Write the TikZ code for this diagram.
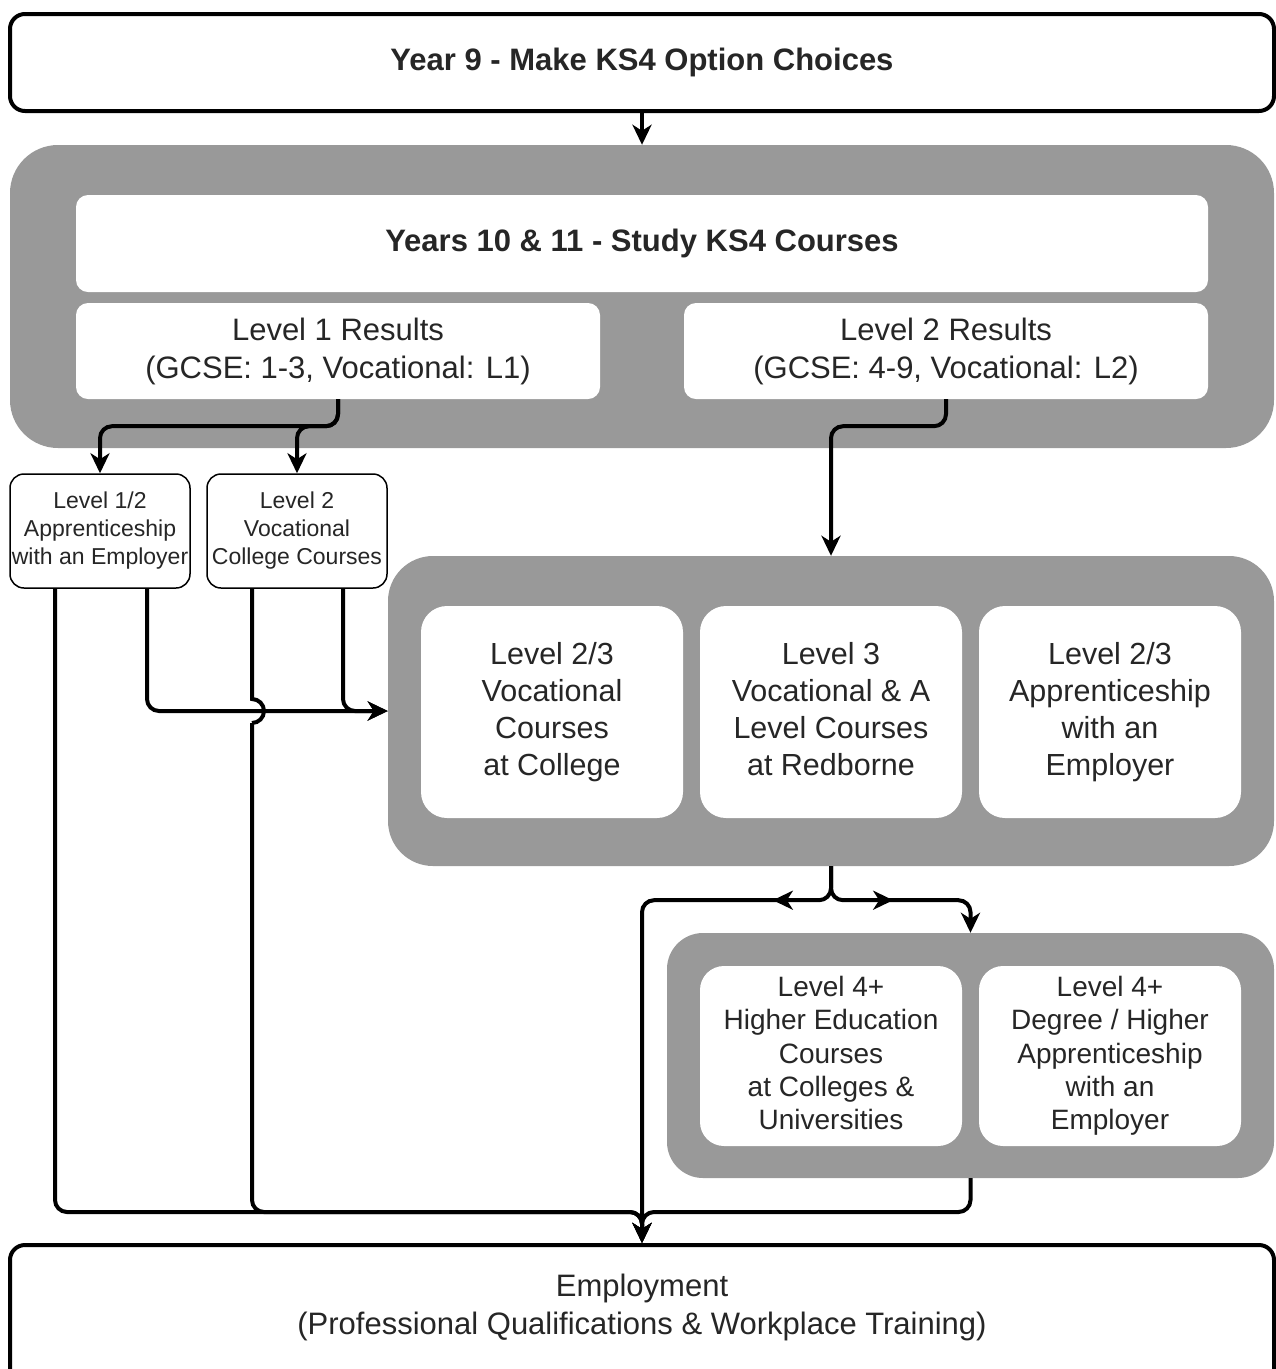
\documentclass[tikz,border=0pt]{standalone}
\usepackage{fontspec}
\setmainfont{Liberation Sans}
\usetikzlibrary{arrows.meta,decorations.markings}
\definecolor{gfill}{HTML}{999999}
\definecolor{txt}{HTML}{262626}
\begin{document}
\begin{tikzpicture}[x=1pt,y=-1pt,
  gbox/.style={fill=gfill,draw=none,inner sep=0pt},
  wbox/.style={fill=white,draw=none,inner sep=0pt,align=center,text=txt},
  frame/.style={fill=white,draw=black,line width=4pt,rounded corners=15pt,inner sep=0pt,align=center,text=txt},
  smallbox/.style={fill=white,draw=black,line width=1.5pt,rounded corners=14pt,inner sep=0pt,align=center,
    minimum width=180pt,minimum height=114pt,font=\fontsize{23}{28}\selectfont,text=txt},
  bigtxt/.style={font=\fontsize{31}{38}\selectfont},
  midtxt/.style={font=\fontsize{30.5}{37}\selectfont},
  lvfour/.style={font=\fontsize{28}{33.3}\selectfont},
  titletxt/.style={font=\bfseries\fontsize{31}{38}\selectfont},
  conn/.style={line width=4pt,rounded corners=12pt},
  jumpline/.style={line width=4pt},
  arr/.style={-{Stealth[length=20pt,width=19pt,inset=6pt]}},
  midarr/.style={postaction={decorate},decoration={markings,
    mark=at position #1 with {\arrow{Stealth[length=20pt,width=19pt,inset=6pt]}}}}
]
\useasboundingbox (0,0) rectangle (1276,1369);

% top box
\node[frame,titletxt,minimum width=1264pt,minimum height=97pt] (top) at (642,62.5) {Year 9 - Make KS4 Option Choices};

% gray group 1
\node[gbox,rounded corners=48pt,minimum width=1264pt,minimum height=303pt] (g1) at (642,296.5) {};
\node[wbox,rounded corners=12pt,titletxt,minimum width=1132pt,minimum height=97pt] (ks4) at (642,243.5) {Years 10 \& 11 - Study KS4 Courses};
\node[wbox,rounded corners=12pt,bigtxt,minimum width=524pt,minimum height=96pt] (l1) at (338,351) {Level 1 Results\\(GCSE: 1-3, Vocational: L1)};
\node[wbox,rounded corners=12pt,bigtxt,minimum width=524pt,minimum height=96pt] (l2) at (946,351) {Level 2 Results\\(GCSE: 4-9, Vocational: L2)};

% small boxes
\node[smallbox] (a12) at (100,531) {Level 1/2\\Apprenticeship\\with an Employer};
\node[smallbox] (v2) at (297,531) {Level 2\\Vocational\\College Courses};

% gray group 2
\node[gbox,rounded corners=45pt,minimum width=886pt,minimum height=310pt] (g2) at (831,711) {};
\node[wbox,rounded corners=26pt,midtxt,minimum width=262pt,minimum height=212pt] (c1) at (552,712) {Level 2/3\\Vocational\\Courses\\at College};
\node[wbox,rounded corners=26pt,midtxt,minimum width=262pt,minimum height=212pt] (c2) at (831,712) {Level 3\\Vocational \& A\\Level Courses\\at Redborne\vphantom{g}};
\node[wbox,rounded corners=26pt,midtxt,minimum width=262pt,minimum height=212pt] (c3) at (1110,712) {Level 2/3\\Apprenticeship\\with an\\Employer};

% gray group 3
\node[gbox,rounded corners=36pt,minimum width=607pt,minimum height=245pt] (g3) at (970.5,1055.5) {};
\node[wbox,rounded corners=24pt,lvfour,minimum width=262pt,minimum height=180pt] (h1) at (831,1056) {Level 4+\\Higher Education\\Courses\\at Colleges \&\\Universities\vphantom{g}};
\node[wbox,rounded corners=24pt,lvfour,minimum width=262pt,minimum height=180pt] (h2) at (1110,1056) {Level 4+\\Degree / Higher\\Apprenticeship\\with an\\Employer};

% employment
\node[frame,minimum width=1264pt,minimum height=140pt] (emp) at (642,1315) {};
\node[bigtxt,text=txt,align=center,inner sep=0pt] (empt) at (642,1307) {Employment\\(Professional Qualifications \& Workplace Training)};

\coordinate (mrg) at (642,1212);
\coordinate (jtop) at (252,699);
\coordinate (jbot) at (252,723);

% connectors
\draw[conn,arr] (top.south) -- (g1.north);
\draw[conn,arr] (l1.south) -- ++(0,27) -| (a12.north);
\draw[conn,arr] (l1.south) -- ++(0,27) -| (v2.north);
\draw[conn,arr] (l2.south) -- ++(0,27) -| (g2.north);

\draw[conn,arr] ([xshift=47pt]a12.south) |- (g2.west);
\draw[conn,arr] ([xshift=46pt]v2.south) |- (g2.west);

\draw[conn,arr] ([xshift=-45pt]a12.south) |- (mrg) -- (emp.north);
\draw[jumpline] ([xshift=-45pt]v2.south) -- (jtop) arc[start angle=90,end angle=-90,radius=12pt];
\draw[conn,arr] (jbot) |- (mrg) -- (emp.north);

\draw[conn,arr,midarr=87pt] (g2.south) -- ++(0,34) -| (emp.north);
\draw[conn,arr,midarr=91pt] (g2.south) -- ++(0,34) -| (g3.north);

\draw[conn,arr] (g3.south) |- (mrg) -- (emp.north);
\end{tikzpicture}
\end{document}
